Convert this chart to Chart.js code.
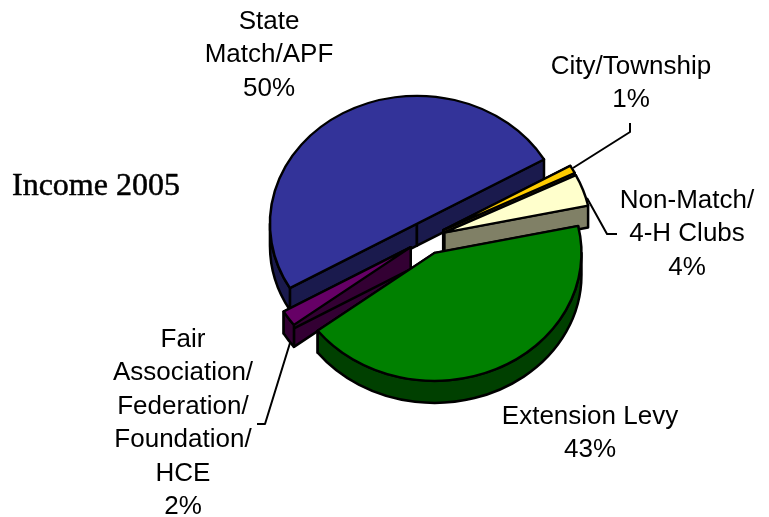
<!DOCTYPE html>
<html>
<head>
  <title>Income 2005</title>
  <script src="https://cdn.jsdelivr.net/npm/chart.js"></script>
  <style>
    html, body { margin: 0; padding: 0; background: #fff; }
    #wrap { width: 769px; height: 517px; }
  </style>
</head>
<body>
  <div id="wrap"><canvas id="incomeChart" width="769" height="517"></canvas></div>
  <script>
    const chartTitle = 'Income 2005';
    const categories = ['State Match/APF', 'City/Township', 'Non-Match/4-H Clubs', 'Extension Levy', 'Fair Association/Federation/Foundation/HCE'];
    const shares = [50, 1, 4, 43, 2];
    const topColors = ['#333399', '#FFCC00', '#FFFFCC', '#008000', '#660066'];
    const sideColors = ['#1A1A4D', '#806600', '#808066', '#004000', '#330033'];
    const labelLines = [
      ['State', 'Match/APF', '50%'],
      ['City/Township', '1%'],
      ['Non-Match/', '4-H Clubs', '4%'],
      ['Extension Levy', '43%'],
      ['Fair', 'Association/', 'Federation/', 'Foundation/', 'HCE', '2%']
    ];
    // centre x and baseline of first line for each label
    const labelSpots = [[269, 29], [631, 74], [687, 208], [590, 424], [183, 347]];
    const leaders = [
      null,
      [[573, 168], [630, 132], [630, 123]],
      [[587, 198], [607, 234], [617, 234]],
      null,
      [[290, 343], [265, 424], [257, 424]]
    ];

    const tilt = 0.87;
    const explode = 19;
    const depth = 22;

    // pie with pulled out slices and a thick edge, still drawn from the arc elements
    class TiltedPie extends Chart.PieController {
      draw() {
        const ctx = this.chart.ctx;
        const arcs = this.getMeta().data;
        const cx = arcs[0].x, cy = arcs[0].y;

        const tiltOn = () => {
          ctx.translate(cx, cy);
          ctx.scale(1, tilt);
          ctx.translate(-cx, -cy);
        };
        const pull = arc => {
          const mid = (arc.startAngle + arc.endAngle) / 2;
          ctx.translate(Math.cos(mid) * explode, Math.sin(mid) * explode);
        };

        // sides first, back to front
        [0, 1, 2, 4, 3].forEach(i => {
          const arc = arcs[i];
          [arc.startAngle, arc.endAngle].forEach(a => {
            ctx.save();
            tiltOn();
            pull(arc);
            ctx.beginPath();
            ctx.moveTo(arc.x, arc.y);
            ctx.lineTo(arc.x + Math.cos(a) * arc.outerRadius, arc.y + Math.sin(a) * arc.outerRadius);
            ctx.lineTo(arc.x + Math.cos(a) * arc.outerRadius, arc.y + Math.sin(a) * arc.outerRadius + depth / tilt);
            ctx.lineTo(arc.x, arc.y + depth / tilt);
            ctx.closePath();
            ctx.restore();
            paintSide(ctx, i);
          });
          // outer wall, only the part facing the viewer (lower half of the turn)
          [0, Math.PI * 2].forEach(turn => {
            const from = Math.max(arc.startAngle, turn);
            const to = Math.min(arc.endAngle, turn + Math.PI);
            if (to <= from) return;
            ctx.save();
            tiltOn();
            pull(arc);
            ctx.beginPath();
            ctx.arc(arc.x, arc.y, arc.outerRadius, from, to);
            ctx.arc(arc.x, arc.y + depth / tilt, arc.outerRadius, to, from, true);
            ctx.closePath();
            ctx.restore();
            paintSide(ctx, i);
          });
        });

        // top faces
        arcs.forEach(arc => {
          ctx.save();
          tiltOn();
          pull(arc);
          arc.draw(ctx);
          ctx.restore();
        });
      }
    }
    TiltedPie.id = 'tiltedPie';
    TiltedPie.defaults = Chart.PieController.defaults;
    Chart.register(TiltedPie);

    function paintSide(ctx, i) {
      ctx.fillStyle = sideColors[i];
      ctx.strokeStyle = '#000';
      ctx.lineWidth = 2.5;
      ctx.lineJoin = 'round';
      ctx.fill();
      ctx.stroke();
    }

    const labelPlugin = {
      id: 'labelPlugin',
      afterDraw(chart) {
        const ctx = chart.ctx;
        ctx.save();
        ctx.strokeStyle = '#000';
        ctx.lineWidth = 2;
        leaders.forEach(points => {
          if (!points) return;
          ctx.beginPath();
          points.forEach((p, i) => i ? ctx.lineTo(p[0], p[1]) : ctx.moveTo(p[0], p[1]));
          ctx.stroke();
        });

        ctx.fillStyle = '#000';
        ctx.textAlign = 'center';
        ctx.textBaseline = 'alphabetic';
        ctx.font = '26px "Liberation Sans"';
        labelLines.forEach((lines, i) => {
          lines.forEach((line, j) => {
            ctx.fillText(line, labelSpots[i][0], labelSpots[i][1] + j * 33.4);
          });
        });

        ctx.textAlign = 'left';
        ctx.font = '32px "Liberation Serif"';
        ctx.lineWidth = 0.5;
        ctx.fillText(chartTitle, 12, 195);
        ctx.strokeText(chartTitle, 12, 195);
        ctx.restore();
      }
    };

    new Chart(document.getElementById('incomeChart').getContext('2d'), {
      type: 'tiltedPie',
      data: {
        labels: categories,
        datasets: [{
          data: shares,
          backgroundColor: topColors,
          borderColor: '#000',
          borderWidth: 2.5,
          borderJoinStyle: 'round',
          radius: 147
        }]
      },
      options: {
        responsive: false,
        animation: false,
        rotation: 239.8,
        layout: { padding: { left: 84, bottom: 41 } },
        plugins: {
          legend: { display: false },
          tooltip: { enabled: false }
        }
      },
      plugins: [labelPlugin]
    });
  </script>
</body>
</html>
